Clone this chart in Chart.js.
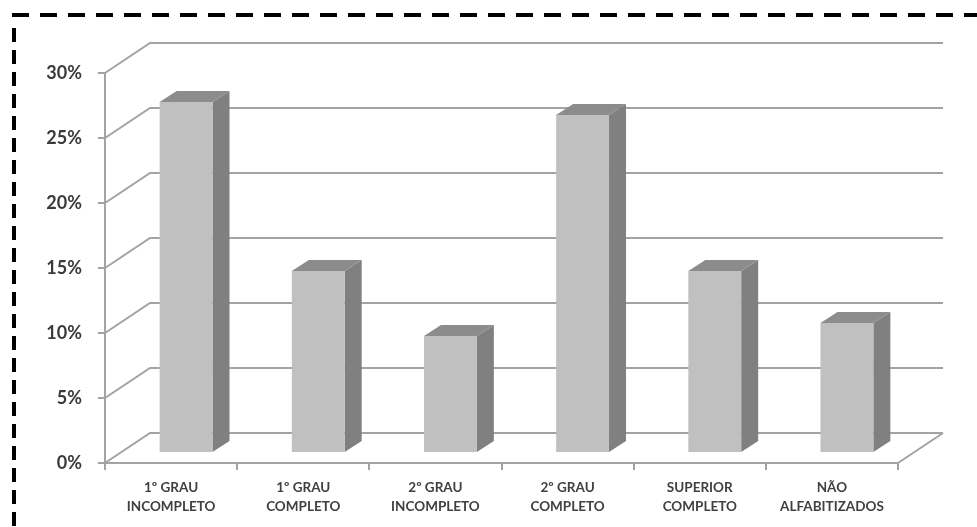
<!DOCTYPE html>
<html>
<head>
<meta charset="utf-8">
<script src="https://cdn.jsdelivr.net/npm/chart.js@4"></script>
<style>
    html, body { margin: 0; padding: 0; background: #ffffff; }
    #wrap { width: 977px; height: 527px; }
</style>
</head>
<body>
<div id="wrap"><canvas id="schoolChart" width="977" height="527"></canvas></div>
<script>
// escolaridade (%)
const categories = [
    ["1º GRAU", "INCOMPLETO"],
    ["1º GRAU", "COMPLETO"],
    ["2º GRAU", "INCOMPLETO"],
    ["2º GRAU", "COMPLETO"],
    ["SUPERIOR", "COMPLETO"],
    ["NÃO", "ALFABITIZADOS"]
];
const values = [27, 14, 9, 26, 14, 10];
const yTicks = [0, 5, 10, 15, 20, 25, 30];

// depth of the 3d box, and where the bars sit inside it
const DEPTH_X = 45, DEPTH_Y = 30;
const BAR_SHIFT_X = 15, BAR_SHIFT_Y = 10;
const BAR_DEPTH_X = 17, BAR_DEPTH_Y = 11;
const GRID_COLOR = "#a3a3a3";

const box3d = {
    id: "box3d",
    beforeDatasetsDraw(chart) {
        const {ctx, chartArea, scales} = chart;
        const yScale = scales.y;
        ctx.save();
        ctx.strokeStyle = GRID_COLOR;
        ctx.lineWidth = 2;
        ctx.beginPath();
        yTicks.forEach(v => {
            const py = yScale.getPixelForValue(v);
            ctx.moveTo(chartArea.left, py);
            ctx.lineTo(chartArea.left + DEPTH_X, py - DEPTH_Y);
            ctx.lineTo(chartArea.right + DEPTH_X, py - DEPTH_Y);
        });
        // floor right edge
        const p0 = yScale.getPixelForValue(0);
        ctx.moveTo(chartArea.right, p0);
        ctx.lineTo(chartArea.right + DEPTH_X, p0 - DEPTH_Y);
        ctx.stroke();
        ctx.restore();

        // bars are drawn a bit inside the box
        ctx.save();
        ctx.translate(BAR_SHIFT_X, -BAR_SHIFT_Y);
        const meta = chart.getDatasetMeta(0);
        meta.data.forEach(bar => {
            const left = bar.x - bar.width / 2;
            const right = bar.x + bar.width / 2;
            // side
            ctx.fillStyle = "#808080";
            ctx.beginPath();
            ctx.moveTo(right, bar.y);
            ctx.lineTo(right + BAR_DEPTH_X, bar.y - BAR_DEPTH_Y);
            ctx.lineTo(right + BAR_DEPTH_X, bar.base - BAR_DEPTH_Y);
            ctx.lineTo(right, bar.base);
            ctx.closePath();
            ctx.fill();
            // top
            ctx.fillStyle = "#8c8c8c";
            ctx.beginPath();
            ctx.moveTo(left, bar.y);
            ctx.lineTo(left + BAR_DEPTH_X, bar.y - BAR_DEPTH_Y);
            ctx.lineTo(right + BAR_DEPTH_X, bar.y - BAR_DEPTH_Y);
            ctx.lineTo(right, bar.y);
            ctx.closePath();
            ctx.fill();
        });
    },
    afterDatasetsDraw(chart) {
        chart.ctx.restore();
    },
    afterDraw(chart) {
        // dashed frame round the picture
        const ctx = chart.ctx;
        ctx.save();
        ctx.strokeStyle = "#000000";
        ctx.lineWidth = 4;
        ctx.setLineDash([17, 11]);
        ctx.beginPath();
        ctx.moveTo(12, 15);
        ctx.lineTo(chart.width, 15);
        ctx.stroke();
        ctx.setLineDash([14, 8]);
        ctx.beginPath();
        ctx.moveTo(14, 28);
        ctx.lineTo(14, chart.height);
        ctx.stroke();
        ctx.restore();
    }
};

const ctx = document.getElementById("schoolChart").getContext("2d");
new Chart(ctx, {
    type: "bar",
    data: {
        labels: categories,
        datasets: [{
            data: values,
            backgroundColor: "#c0c0c0",
            borderWidth: 0,
            barPercentage: 0.4,
            categoryPercentage: 1,
            clip: false
        }]
    },
    options: {
        responsive: false,
        animation: false,
        layout: {
            padding: {left: 0, top: 73, right: 79, bottom: 0}
        },
        plugins: {
            legend: {display: false},
            tooltip: {enabled: false}
        },
        scales: {
            x: {
                grid: {
                    offset: true,
                    drawOnChartArea: false,
                    drawTicks: true,
                    tickLength: 7,
                    color: GRID_COLOR,
                    lineWidth: 2
                },
                border: {display: true, color: GRID_COLOR, width: 2},
                ticks: {
                    color: "#404040",
                    padding: 8,
                    maxRotation: 0,
                    autoSkip: false,
                    font: {family: "Lato", size: 13.5, weight: "bold", lineHeight: 1.4}
                },
                afterFit: function(scale) {
                    scale.height = 64;
                }
            },
            y: {
                min: 0,
                max: 30,
                ticks: {
                    stepSize: 5,
                    color: "#3a3a3a",
                    padding: 16,
                    font: {family: "Lato", size: 18, weight: "bold"},
                    callback: v => v + "%"
                },
                grid: {
                    drawOnChartArea: false,
                    drawTicks: true,
                    tickLength: 7,
                    color: GRID_COLOR,
                    lineWidth: 2
                },
                border: {display: true, color: GRID_COLOR, width: 2},
                afterFit: function(scale) {
                    scale.width = 105;
                }
            }
        }
    },
    plugins: [box3d]
});
</script>
</body>
</html>
